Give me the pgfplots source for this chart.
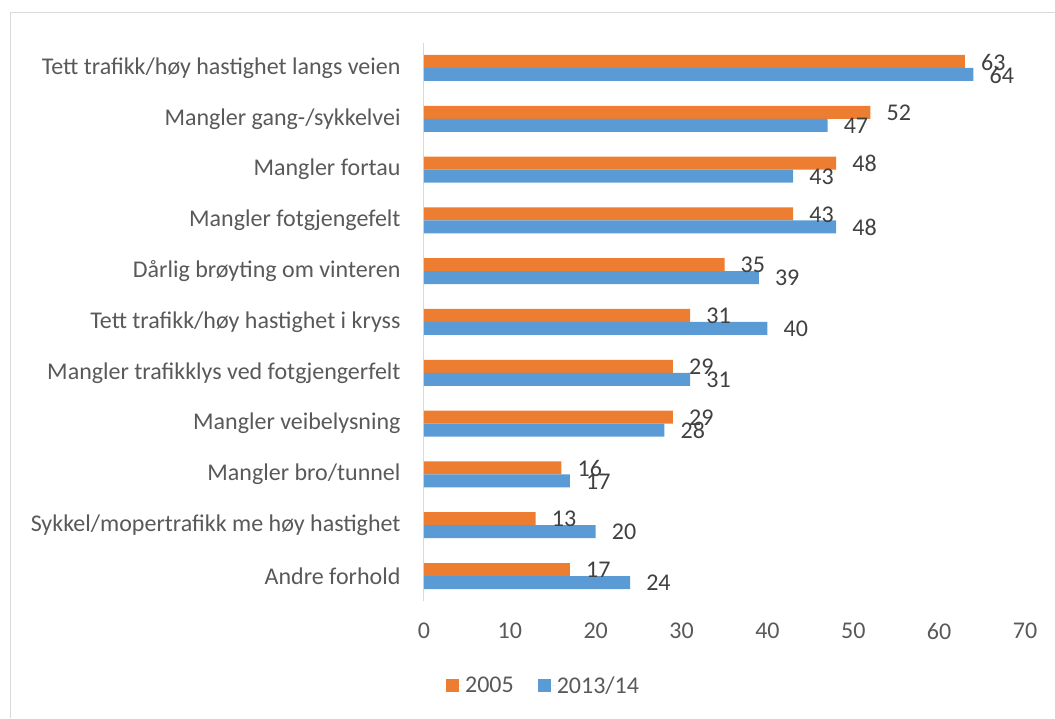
\documentclass[border=0pt]{standalone}
\usepackage{fontspec}
\setmainfont{Carlito}
\usepackage{pgfplots}
\pgfplotsset{compat=1.18}
\definecolor{cOrange}{HTML}{ED7D31}
\definecolor{cBlue}{HTML}{5B9BD5}
\definecolor{cTick}{HTML}{595959}
\definecolor{cLab}{HTML}{404040}
\definecolor{cAxis}{HTML}{D9D9D9}
\begin{document}
\begin{tikzpicture}[x=1pt,y=1pt]
\useasboundingbox (0,0) rectangle (1055,718);
\draw[cAxis,line width=1pt] (10.5,0) -- (10.5,705.5) -- (1055,705.5);
\begin{axis}[
  at={(424pt,116.6pt)}, anchor=south west,
  scale only axis, width=601pt, height=558.8pt,
  xbar, bar width=13pt,
  xmin=0, xmax=70, xtick={0,10,...,70},
  ymin=-0.5, ymax=10.5, ytick={0,...,10},
  yticklabels={Andre forhold,
    Sykkel/mopertrafikk me høy hastighet,
    Mangler bro/tunnel,
    Mangler veibelysning,
    Mangler trafikklys ved fotgjengerfelt,
    Tett trafikk/høy hastighet i kryss,
    Dårlig brøyting om vinteren,
    Mangler fotgjengefelt,
    Mangler fortau,
    Mangler gang-/sykkelvei,
    Tett trafikk/høy hastighet langs veien},
  axis lines*=left,
  x axis line style={draw=none},
  y axis line style={draw=cAxis, line width=1pt},
  major tick length=0pt,
  /pgf/number format/assume math mode=true,
  tick label style={font=\fontsize{24}{28}\selectfont, text=cTick},
  xticklabel style={yshift=-18pt},
  yticklabel style={xshift=-20pt},
  nodes near coords,
  nodes near coords style={anchor=west, xshift=12.7pt, yshift=-0.5pt, font=\fontsize{24}{28}\selectfont, text=cLab},
  legend columns=2,
  legend style={draw=none, fill=none, at={(axis description cs:0.199,-0.151)}, anchor=center,
    font=\fontsize{24}{28}\selectfont, text=cTick,
    /tikz/every even column/.append style={column sep=22pt}},
  legend image code/.code={\fill[#1] (0pt,-6.5pt) rectangle (13pt,6.5pt); \path (0pt,0pt) -- (17pt,0pt);},
]
\addplot[draw=none, fill=cOrange, bar shift=6.5pt] coordinates {
  (17,0) (13,1) (16,2) (29,3) (29,4) (31,5) (35,6) (43,7) (48,8) (52,9) (63,10)};
\addplot[draw=none, fill=cBlue, bar shift=-6.5pt] coordinates {
  (24,0) (20,1) (17,2) (28,3) (31,4) (40,5) (39,6) (48,7) (43,8) (47,9) (64,10)};
\legend{2005, 2013/14}
\end{axis}
\end{tikzpicture}
\end{document}
